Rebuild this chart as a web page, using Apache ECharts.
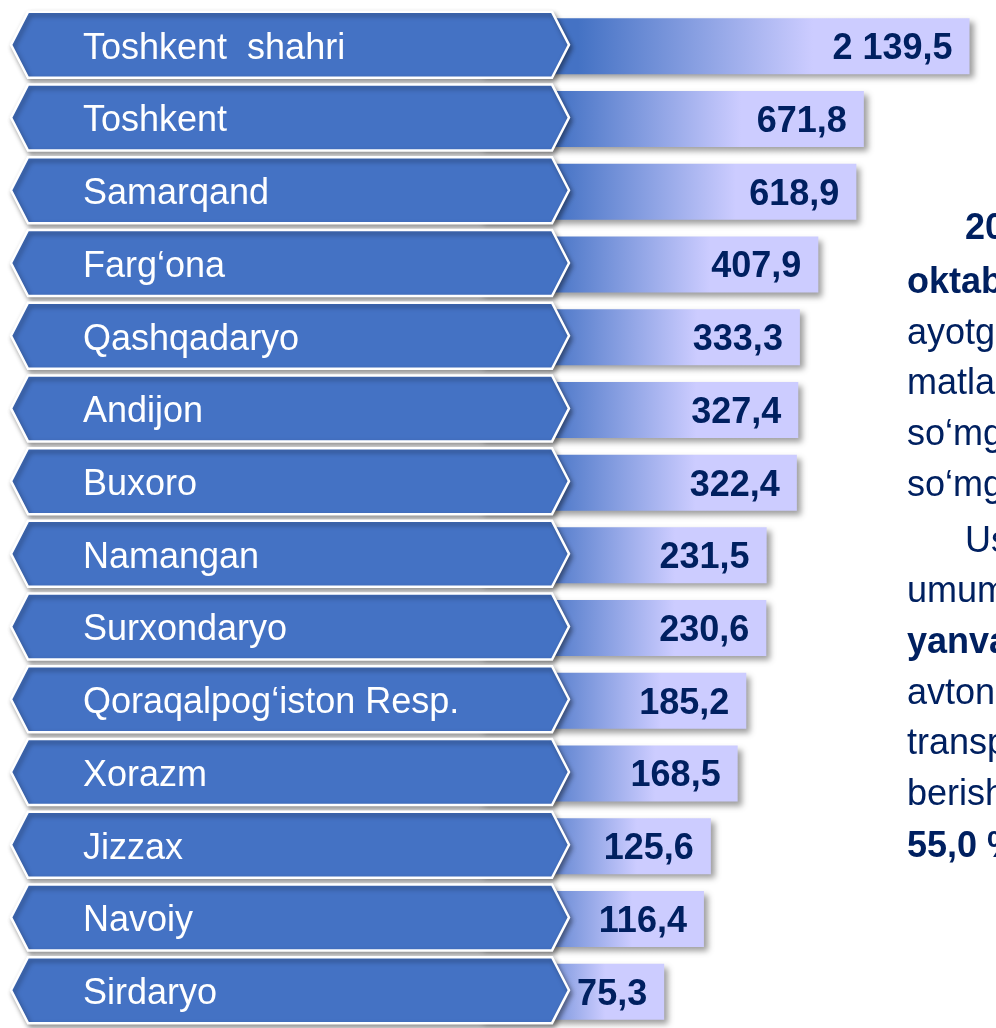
<!DOCTYPE html>
<html>
<head>
<meta charset="utf-8">
<script src="https://cdn.jsdelivr.net/npm/echarts@6/dist/echarts.min.js"></script>
<style>
html,body{margin:0;padding:0;background:#fff;}
#chart{width:996px;height:1028px;}
</style>
</head>
<body>
<div id="chart"></div>
<script>
// ---- data ----
const categories = ['Toshkent  shahri','Toshkent','Samarqand','Farg‘ona','Qashqadaryo','Andijon','Buxoro','Namangan','Surxondaryo','Qoraqalpog‘iston Resp.','Xorazm','Jizzax','Navoiy','Sirdaryo'];
const values = [2139.5, 671.8, 618.9, 407.9, 333.3, 327.4, 322.4, 231.5, 230.6, 185.2, 168.5, 125.6, 116.4, 75.3];
const sideLines = ['20','oktab','ayotg','matla','so‘mg','so‘mg','Us','umum','yanva','avton','transp','berish','55,0 %'];
const sideBold = [true,true,false,false,false,false,false,false,true,false,false,false,true];

const AXIS_MIN = 10, AXIS_MAX = 2860;
const FONT = '"Liberation Sans", Arial, sans-serif';
const NAVY = '#002060';

function fmt(v){
  const parts = v.toFixed(1).split('.');
  const int = parts[0].replace(/\B(?=(\d{3})+(?!\d))/g, ' ');
  return int + ',' + parts[1];
}

const sideX = [965,907,907,907,907,907,965,907,907,907,907,907,907];
const sideY = [229,283,334,384,435,486,542,592,643,694,744,795,847];

const chart = echarts.init(document.getElementById('chart'), null, {renderer:'canvas'});
chart.setOption({
  animation:false,
  backgroundColor:'#fff',
  grid:{left:480, top:10, right:0, height:1025, containLabel:false},
  xAxis:{type:'log', logBase:10, min:AXIS_MIN, max:AXIS_MAX, show:false},
  yAxis:{type:'category', data:categories, inverse:true, show:false},
  graphic: sideLines.map((t,i)=>({
    type:'text', x:sideX[i], y:sideY[i], z:10,
    style:{text:t, fill:NAVY, font:(sideBold[i]?'bold ':'')+'36px '+FONT, verticalAlign:'middle', align:'left'}
  })),
  series:[
    {
      type:'bar', data:values, barWidth:56, clip:true, z:2,
      itemStyle:{
        color:{type:'linear', x:0, y:0, x2:1, y2:0, colorStops:[
          {offset:0, color:'#4472C4'},
          {offset:0.2, color:'#4472C4'},
          {offset:0.68, color:'#CCCCFF'},
          {offset:1, color:'#CCCCFF'}
        ]},
        shadowColor:'rgba(0,0,0,0.38)', shadowBlur:6, shadowOffsetX:4, shadowOffsetY:4
      },
      label:{
        show:true, position:'insideRight', distance:17, offset:[0,3],
        formatter:p=>fmt(p.value),
        color:NAVY, fontWeight:'bold', fontSize:36, fontFamily:FONT
      }
    },
    {
      type:'custom', z:5, clip:false,
      data: categories.map(c=>[AXIS_MIN, c]),
      encode:{x:0, y:1},
      renderItem:(params, api)=>{
        const yc = api.coord([api.value(0), params.dataIndex])[1] - 1.5;
        const h = 33;
        return {
          type:'group',
          children:[
            {type:'polygon',
             shape:{points:[[28,yc-h],[552,yc-h],[569,yc],[552,yc+h],[28,yc+h],[11,yc]]},
             style:{fill:'#4472C4', stroke:'#ffffff', lineWidth:2.5,
                    shadowBlur:5, shadowOffsetX:2, shadowOffsetY:3, shadowColor:'rgba(0,0,0,0.4)'}},
            {type:'text', x:83, y:yc+4,
             style:{text:categories[params.dataIndex], fill:'#ffffff', font:'36px '+FONT,
                    verticalAlign:'middle', align:'left'}}
          ]
        };
      }
    }
  ]
});
</script>
</body>
</html>
